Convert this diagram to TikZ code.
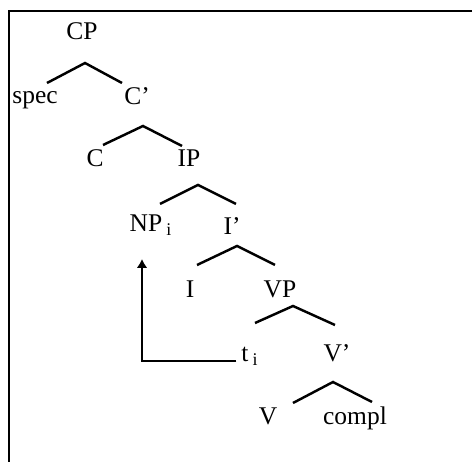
\documentclass[tikz,border=0pt]{standalone}
\usepackage{fontspec}
\setmainfont{Liberation Serif}
\usepackage{tikz}
\usetikzlibrary{arrows.meta}

\begin{document}
\begin{tikzpicture}[x=0.02cm,y=-0.02cm]
	 \tikzstyle{cat}=[inner sep=1pt,anchor=base,font=\fontsize{14.5}{16}\selectfont]
	 \tikzstyle{edge} = [draw,line width=1.4pt,-,black]
	 \tikzstyle{move} = [draw,line width=1.4pt,-{Latex[length=5pt,width=6pt]},black]
	 \tikzstyle{frame} = [draw,line width=1.3pt,black]
	 \useasboundingbox (0,0) rectangle (474,462);
	 \draw[frame] (472,11) -- (9,11) -- (9,462);
	 \node[cat] (cp) at (82,40) {CP};
	 \node[cat] (spec) at (35,104) {spec};
	 \node[cat] (cbar) at (137,105) {C’};
	 \node[cat] (c) at (95,167) {C};
	 \node[cat] (ip) at (189,167) {IP};
	 \node[cat] (np) at (151,232) {NP\,\textsubscript{i}};
	 \node[cat] (ibar) at (232,235) {I’};
	 \node[cat] (i) at (190,298) {I};
	 \node[cat] (vp) at (280,298) {VP};
	 \node[cat] (ti) at (250,362) {t\,\textsubscript{i}};
	 \node[cat] (vbar) at (337,362) {V’};
	 \node[cat] (v) at (268,425) {V};
	 \node[cat] (compl) at (355,425) {compl};
	 % branch tops
	 \coordinate (cp-a) at (85,63);
	 \coordinate (cbar-a) at (143,126);
	 \coordinate (ip-a) at (198,185);
	 \coordinate (ibar-a) at (237,246);
	 \coordinate (vp-a) at (293,306);
	 \coordinate (vbar-a) at (333,382);
	 \draw[edge] ([shift={(-38,20)}]cp-a) -- (cp-a) -- ++(37,20);
	 \draw[edge] ([shift={(-40,19)}]cbar-a) -- (cbar-a) -- ++(39,20);
	 \draw[edge] ([shift={(-38,19)}]ip-a) -- (ip-a) -- ++(38,19);
	 \draw[edge] ([shift={(-40,19)}]ibar-a) -- (ibar-a) -- ++(38,19);
	 \draw[edge] ([shift={(-38,17)}]vp-a) -- (vp-a) -- ++(42,19);
	 \draw[edge] ([shift={(-40,21)}]vbar-a) -- (vbar-a) -- ++(39,20);
	 % trace
	 \coordinate (gap) at (142,259);
	 \draw[move] ([shift={(-3,-1)}]ti.base west) -| (gap);
\end{tikzpicture}
\end{document}
